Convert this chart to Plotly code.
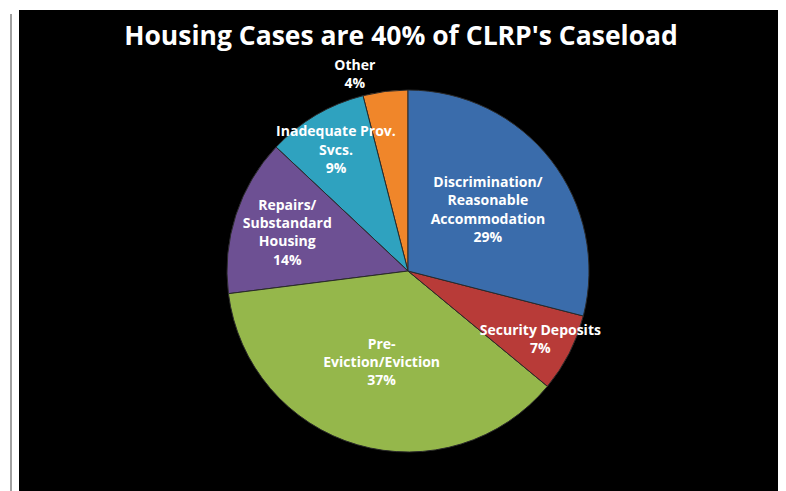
import plotly.graph_objects as go

# listed counterclockwise from 12 o'clock (equivalent to clockwise order
# Discrimination, Security, Pre-Eviction, Repairs, Inadequate, Other)
categories = ["Other", "Inadequate Prov.<br>Svcs.", "Repairs/<br>Substandard<br>Housing",
              "Pre-<br>Eviction/Eviction", "Security Deposits",
              "Discrimination/<br>Reasonable<br>Accommodation"]
shares = [4, 9, 14, 37, 7, 29]
colors = ["#f0862a", "#2fa2bf", "#6d5093", "#95b74b", "#b83b38", "#3a6cab"]
title_text = "Housing Cases are 40% of CLRP's Caseload"

W, H = 786, 491
cx, cy, d = 400, 263, 362

# counterclockwise pies in plotly end the first slice at `rotation`;
# shift so the first slice starts at 12 o'clock
rot = -360.0 * shares[0] / sum(shares)

fig = go.Figure(go.Pie(
    labels=categories, values=shares, sort=False, direction="counterclockwise", rotation=rot,
    marker=dict(colors=colors, line=dict(color="#2a2a2a", width=1)),
    texttemplate="<b>%{label}<br>%{value}%</b>",
    textposition=["outside", "inside", "inside", "inside", "inside", "inside"],
    insidetextorientation="horizontal",
    textfont=dict(family="Open Sans", size=14, color="white"),
    outsidetextfont=dict(family="Open Sans", size=14, color="white"),
    showlegend=False,
    domain=dict(x=[(cx - d / 2) / W, (cx + d / 2) / W],
                y=[(H - cy - d / 2) / H, (H - cy + d / 2) / H]),
))

fig.update_layout(
    width=W, height=H,
    margin=dict(l=0, r=0, t=0, b=0),
    paper_bgcolor="black",
    uniformtext=dict(minsize=14, mode="show"),
    title=dict(text="<b>" + title_text + "</b>", x=0.5, xanchor="center",
               y=1 - 28 / H, yanchor="middle",
               font=dict(family="Open Sans", size=26.5, color="white")),
    shapes=[
        dict(type="rect", xref="paper", yref="paper", x0=0, x1=11 / W, y0=0, y1=1,
             fillcolor="white", line_width=0, layer="below"),
        dict(type="rect", xref="paper", yref="paper", x0=0, x1=1, y0=1 - 2 / H, y1=1,
             fillcolor="white", line_width=0, layer="below"),
        dict(type="line", xref="paper", yref="paper", x0=3 / W, x1=3 / W,
             y0=1 - 486 / H, y1=1 - 6 / H, line=dict(color="#a0a0a0", width=2)),
    ],
)

fig.write_html("out.html")
